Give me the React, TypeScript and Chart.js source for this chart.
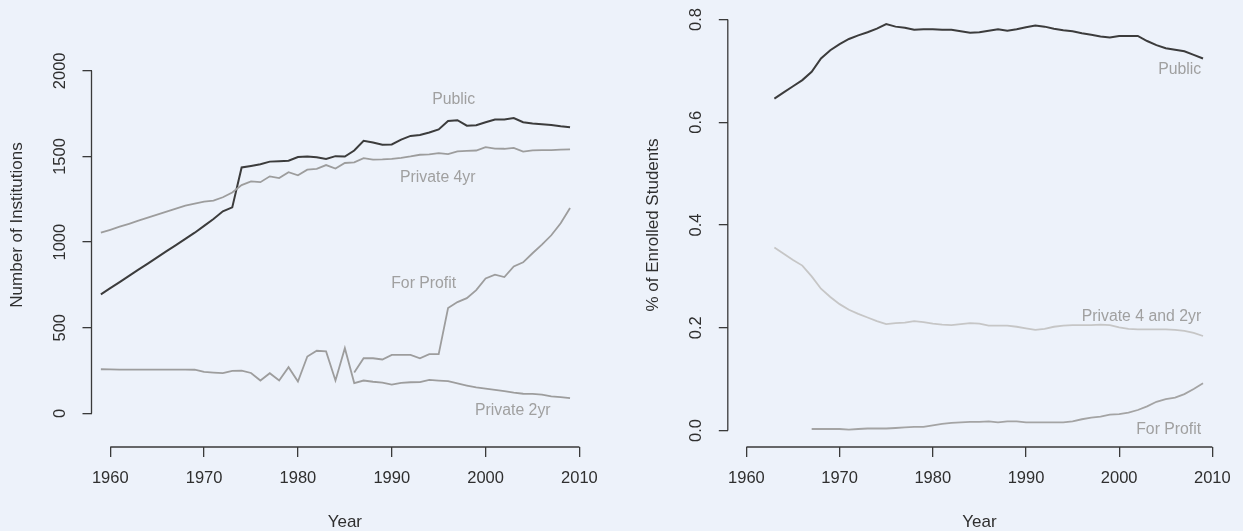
import React, { useEffect, useRef } from 'react';
import { Chart, registerables } from 'chart.js';

Chart.register(...registerables);

// ---------- data: left panel (number of institutions) ----------
const countYears = [
  1959, 1960, 1961, 1962, 1963, 1964, 1965, 1966, 1967, 1968, 1969, 1970, 1971, 1972, 1973, 1974, 1975,
  1976, 1977, 1978, 1979, 1980, 1981, 1982, 1983, 1984, 1985, 1986, 1987, 1988, 1989, 1990, 1991, 1992,
  1993, 1994, 1995, 1996, 1997, 1998, 1999, 2000, 2001, 2002, 2003, 2004, 2005, 2006, 2007, 2008, 2009,
];
const publicCount = [
  695, 731, 767, 803, 839, 875, 911, 947, 983, 1019, 1055, 1095, 1135, 1180, 1203, 1436, 1445,
  1455, 1470, 1472, 1475, 1497, 1500, 1495, 1485, 1502, 1500, 1535, 1592, 1582, 1568, 1570, 1598, 1620,
  1625, 1640, 1658, 1707, 1712, 1680, 1683, 1700, 1716, 1716, 1724, 1700, 1693, 1688, 1684, 1676, 1670,
];
const private4Count = [
  1055, 1072, 1090, 1107, 1125, 1143, 1160, 1178, 1196, 1213, 1225, 1237, 1242, 1262, 1290, 1333, 1355,
  1350, 1384, 1374, 1408, 1390, 1423, 1428, 1450, 1430, 1462, 1466, 1490, 1482, 1483, 1486, 1492, 1500,
  1510, 1512, 1520, 1514, 1530, 1533, 1535, 1555, 1546, 1545, 1550, 1528, 1536, 1537, 1537, 1540, 1542,
];
const private2Count = [
  258, 257, 256, 256, 256, 256, 256, 256, 256, 256, 255, 242, 238, 235, 248, 250, 236,
  192, 235, 192, 270, 186, 332, 366, 362, 192, 381, 177, 192, 185, 180, 168, 178, 182,
  183, 196, 192, 188, 175, 163, 152, 145, 138, 130, 121, 115, 114, 110, 99, 95, 89,
];
const forProfitCountYears = [
  1986, 1987, 1988, 1989, 1990, 1991, 1992, 1993, 1994, 1995, 1996, 1997, 1998, 1999, 2000, 2001, 2002,
  2003, 2004, 2005, 2006, 2007, 2008, 2009,
];
const forProfitCount = [
  239, 322, 322, 315, 342, 342, 342, 322, 346, 346, 615, 650, 673, 720, 788, 810, 796,
  858, 882, 935, 985, 1040, 1110, 1199,
];
const countTicks = [0, 500, 1000, 1500, 2000];
const countTickLabels = ['0', '500', '1000', '1500', '2000'];

// ---------- data: right panel (share of enrolled students) ----------
const shareYears = [
  1963, 1964, 1965, 1966, 1967, 1968, 1969, 1970, 1971, 1972, 1973, 1974, 1975, 1976, 1977, 1978,
  1979, 1980, 1981, 1982, 1983, 1984, 1985, 1986, 1987, 1988, 1989, 1990, 1991, 1992, 1993, 1994,
  1995, 1996, 1997, 1998, 1999, 2000, 2001, 2002, 2003, 2004, 2005, 2006, 2007, 2008, 2009,
];
const publicShare = [
  0.646, 0.658, 0.670, 0.682, 0.698, 0.724, 0.740, 0.752, 0.762, 0.769, 0.775, 0.782, 0.791, 0.786, 0.784, 0.780,
  0.781, 0.781, 0.780, 0.780, 0.777, 0.774, 0.775, 0.778, 0.781, 0.778, 0.781, 0.785, 0.788, 0.786, 0.782, 0.779,
  0.777, 0.773, 0.770, 0.767, 0.765, 0.768, 0.768, 0.768, 0.758, 0.750, 0.744, 0.741, 0.738, 0.731, 0.724,
];
const privateShare = [
  0.356, 0.344, 0.332, 0.321, 0.300, 0.276, 0.260, 0.246, 0.235, 0.227, 0.220, 0.213, 0.207, 0.209, 0.210, 0.213,
  0.211, 0.208, 0.206, 0.205, 0.207, 0.209, 0.208, 0.204, 0.204, 0.204, 0.202, 0.199, 0.196, 0.198, 0.202, 0.204,
  0.205, 0.205, 0.205, 0.206, 0.205, 0.201, 0.198, 0.197, 0.197, 0.197, 0.197, 0.196, 0.194, 0.190, 0.184,
];
const forProfitShareYears = [
  1967, 1968, 1969, 1970, 1971, 1972, 1973, 1974, 1975, 1976, 1977, 1978, 1979, 1980, 1981, 1982,
  1983, 1984, 1985, 1986, 1987, 1988, 1989, 1990, 1991, 1992, 1993, 1994, 1995, 1996, 1997, 1998,
  1999, 2000, 2001, 2002, 2003, 2004, 2005, 2006, 2007, 2008, 2009,
];
const forProfitShare = [
  0.003, 0.003, 0.003, 0.003, 0.002, 0.003, 0.004, 0.004, 0.004, 0.005, 0.006, 0.007, 0.007, 0.010, 0.013, 0.015,
  0.016, 0.017, 0.017, 0.018, 0.016, 0.018, 0.018, 0.016, 0.016, 0.016, 0.016, 0.016, 0.018, 0.022, 0.025, 0.027,
  0.031, 0.032, 0.035, 0.040, 0.047, 0.056, 0.061, 0.064, 0.071, 0.081, 0.092,
];
const shareTicks = [0, 0.2, 0.4, 0.6, 0.8];
const shareTickLabels = ['0.0', '0.2', '0.4', '0.6', '0.8'];

const yearTicks = [1960, 1970, 1980, 1990, 2000, 2010];
const yearTickLabels = ['1960', '1970', '1980', '1990', '2000', '2010'];

// in-plot text labels (data coordinates)
const countNotes = [
  { text: 'Public', x: 1996.6, y: 1832 },
  { text: 'Private 4yr', x: 1994.9, y: 1378 },
  { text: 'For Profit', x: 1993.4, y: 755 },
  { text: 'Private 2yr', x: 2002.9, y: 18 },
];
const shareNotes = [
  { text: 'Public', x: 2008.8, y: 0.703 },
  { text: 'Private 4 and 2yr', x: 2008.8, y: 0.2226 },
  { text: 'For Profit', x: 2008.8, y: 0.0025 },
];

// ---------- styles ----------
const BG = '#edf2fa';
const AXIS = '#3a3a3a';
const TEXT = '#2f2f2f';
const DARK = '#3c3c3c';
const GRAY = '#9d9d9d';
const LIGHT = '#c6c6c6';
const NOTE = '#a0a0a0';
const FAMILY = '"Liberation Sans", Arial, Helvetica, sans-serif';

const toPts = (xs: number[], ys: number[]) => xs.map((x, i) => ({ x, y: ys[i] }));

type Note = { text: string; x: number; y: number };

function makePlugin(yTickLabels: string[], yTicks: number[], notes: Note[], align: 'center' | 'right') {
  return {
    id: 'rStyleAxes',
    afterDraw(chart: any) {
      const { ctx, chartArea } = chart;
      const xs = chart.scales.x;
      const ys = chart.scales.y;
      ctx.save();
      ctx.strokeStyle = AXIS;
      ctx.lineWidth = 1.3;
      ctx.beginPath();
      ctx.moveTo(xs.getPixelForValue(yearTicks[0]), chartArea.bottom);
      ctx.lineTo(xs.getPixelForValue(yearTicks[yearTicks.length - 1]), chartArea.bottom);
      ctx.moveTo(chartArea.left, ys.getPixelForValue(yTicks[0]));
      ctx.lineTo(chartArea.left, ys.getPixelForValue(yTicks[yTicks.length - 1]));
      ctx.stroke();

      ctx.fillStyle = TEXT;
      ctx.font = `16.5px ${FAMILY}`;
      ctx.textAlign = 'center';
      ctx.textBaseline = 'middle';
      yTicks.forEach((v, i) => {
        const y = ys.getPixelForValue(v);
        ctx.save();
        ctx.translate(chartArea.left - 31.5, y);
        ctx.rotate(-Math.PI / 2);
        ctx.fillText(yTickLabels[i], 0, 0);
        ctx.restore();
      });

      ctx.fillStyle = NOTE;
      ctx.font = `15.8px ${FAMILY}`;
      ctx.textAlign = align;
      notes.forEach((n) => {
        ctx.fillText(n.text, xs.getPixelForValue(n.x), ys.getPixelForValue(n.y));
      });
      ctx.restore();
    },
  };
}

function buildOptions(cfg: {
  width: number;
  areaLeft: number;
  areaRight: number;
  yMin: number;
  yMax: number;
  yTicks: number[];
  yTitle: string;
  yTitlePad: number;
}) {
  return {
    responsive: false,
    animation: false,
    devicePixelRatio: 1,
    layout: { padding: { left: 0, top: 3, right: cfg.width - cfg.areaRight, bottom: 0 } },
    plugins: { legend: { display: false }, tooltip: { enabled: false } },
    elements: { point: { radius: 0 }, line: { tension: 0 } },
    scales: {
      x: {
        type: 'linear',
        min: 1958,
        max: 2012,
        afterBuildTicks: (scale: any) => {
          scale.ticks = yearTicks.map((v) => ({ value: v }));
        },
        afterFit: (scale: any) => {
          scale.height = 531 - 447;
        },
        border: { display: false },
        grid: { display: true, drawOnChartArea: false, drawTicks: true, tickLength: 10, color: AXIS, lineWidth: 1.3 },
        ticks: {
          autoSkip: false,
          maxRotation: 0,
          minRotation: 0,
          padding: 12,
          color: TEXT,
          font: { family: FAMILY, size: 16.5, lineHeight: 1.2 },
          callback: (_v: any, i: number) => yearTickLabels[i],
        },
        title: {
          display: true,
          text: 'Year',
          color: TEXT,
          font: { family: FAMILY, size: 17, lineHeight: 1 },
          padding: { top: 0, bottom: 0.5 },
        },
      },
      y: {
        type: 'linear',
        min: cfg.yMin,
        max: cfg.yMax,
        afterBuildTicks: (scale: any) => {
          scale.ticks = cfg.yTicks.map((v) => ({ value: v }));
        },
        afterFit: (scale: any) => {
          scale.width = cfg.areaLeft;
        },
        border: { display: false },
        grid: { display: true, drawOnChartArea: false, drawTicks: true, tickLength: 9, color: AXIS, lineWidth: 1.3 },
        ticks: { display: false },
        title: {
          display: true,
          text: cfg.yTitle,
          color: TEXT,
          font: { family: FAMILY, size: 17, lineHeight: 1 },
          padding: { top: cfg.yTitlePad, bottom: 0 },
        },
      },
    },
  };
}

function Panel(props: { width: number; left: number; make: () => any }) {
  const ref = useRef<HTMLCanvasElement | null>(null);
  useEffect(() => {
    if (!ref.current) return;
    const chart = new Chart(ref.current, props.make());
    return () => chart.destroy();
  }, []);
  return (
    <div style={{ position: 'absolute', left: props.left, top: 0, width: props.width, height: 531 }}>
      <canvas ref={ref} width={props.width} height={531} style={{ width: props.width, height: 531, display: 'block' }} />
    </div>
  );
}

const makeLeft = () => ({
  type: 'line',
  data: {
    datasets: [
      { label: 'Private 2yr', data: toPts(countYears, private2Count), borderColor: GRAY, borderWidth: 1.8, pointRadius: 0 },
      { label: 'For Profit', data: toPts(forProfitCountYears, forProfitCount), borderColor: GRAY, borderWidth: 1.8, pointRadius: 0 },
      { label: 'Private 4yr', data: toPts(countYears, private4Count), borderColor: GRAY, borderWidth: 1.8, pointRadius: 0 },
      { label: 'Public', data: toPts(countYears, publicCount), borderColor: DARK, borderWidth: 2, pointRadius: 0 },
    ],
  },
  options: buildOptions({
    width: 620,
    areaLeft: 91.5,
    areaRight: 598.2,
    yMin: -196,
    yMax: 2396,
    yTicks: countTicks,
    yTitle: 'Number of Institutions',
    yTitlePad: 9.3,
  }),
  plugins: [makePlugin(countTickLabels, countTicks, countNotes, 'center')],
});

const makeRight = () => ({
  type: 'line',
  data: {
    datasets: [
      { label: 'For Profit', data: toPts(forProfitShareYears, forProfitShare), borderColor: '#a4a4a4', borderWidth: 1.8, pointRadius: 0 },
      { label: 'Private 4 and 2yr', data: toPts(shareYears, privateShare), borderColor: LIGHT, borderWidth: 1.8, pointRadius: 0 },
      { label: 'Public', data: toPts(shareYears, publicShare), borderColor: DARK, borderWidth: 2, pointRadius: 0 },
    ],
  },
  options: buildOptions({
    width: 623,
    areaLeft: 107.8,
    areaRight: 614.8,
    yMin: -0.032,
    yMax: 0.832,
    yTicks: shareTicks,
    yTitle: '% of Enrolled Students',
    yTitlePad: 25.3,
  }),
  plugins: [makePlugin(shareTickLabels, shareTicks, shareNotes, 'right')],
});

export default function App() {
  return (
    <div style={{ position: 'fixed', left: 0, top: 0, width: 1243, height: 531, background: BG, overflow: 'hidden' }}>
      <Panel width={620} left={0} make={makeLeft} />
      <Panel width={623} left={620} make={makeRight} />
    </div>
  );
}
